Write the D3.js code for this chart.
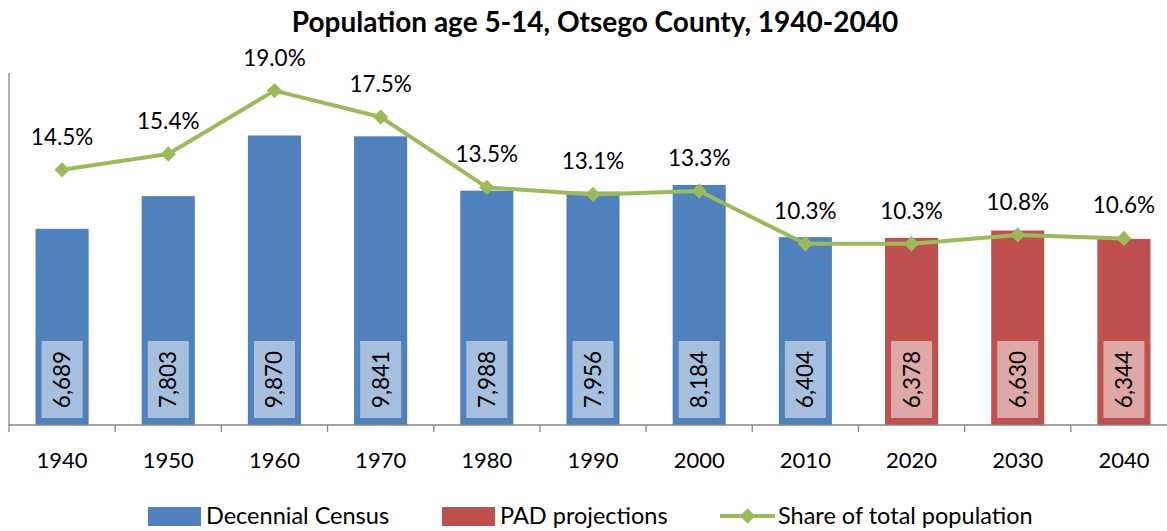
<!DOCTYPE html>
<html>
<head>
<meta charset="utf-8">
<script src="https://cdn.jsdelivr.net/npm/d3@7"></script>
<style>
  body { margin: 0; background: #fff; }
  text { font-family: Lato, "Open Sans", sans-serif; fill: #000; }
</style>
</head>
<body>
<div id="chart"></div>
<script>
//Datos
const years = ['1940','1950','1960','1970','1980','1990','2000','2010','2020','2030','2040'];
const population = [6689, 7803, 9870, 9841, 7988, 7956, 8184, 6404, 6378, 6630, 6344];
const share = [14.5, 15.4, 19.0, 17.5, 13.5, 13.1, 13.3, 10.3, 10.3, 10.8, 10.6];
const projected = [false, false, false, false, false, false, false, false, true, true, true];
const legendLabels = ['Decennial Census', 'PAD projections', 'Share of total population'];

//Colores
const COLOR_CENSUS = '#4F81BD',
COLOR_CENSUS_BOX = '#A7BFDE',
COLOR_PAD = '#C0504D',
COLOR_PAD_BOX = '#DFA7A6',
COLOR_SHARE = '#9BBB59',
COLOR_AXIS = '#868686';

const W = 1167, H = 531;
let margin = {left: 9, top: 73, bottom: 425};

let svg = d3.select('#chart').append('svg')
    .attr('width', W)
    .attr('height', H);

//Título
svg.append('text')
    .attr('x', 595)
    .attr('y', 32)
    .attr('text-anchor', 'middle')
    .style('font-size', '28px')
    .style('font-weight', 'bold')
    .text('Population age 5-14, Otsego County, 1940-2040');

let x = d3.scaleBand()
    .domain(years)
    .range([margin.left, 1177])
    .padding(0);

let y = d3.scaleLinear()
    .domain([0, 12000])
    .range([margin.bottom, margin.top]);

let y2 = d3.scaleLinear()
    .domain([0, 20])
    .range([margin.bottom, margin.top]);

let barW = x.bandwidth() * 0.5;

//Barras
let bars = svg.append('g')
    .selectAll('g')
    .data(years)
    .enter()
    .append('g');

bars.append('rect')
    .attr('x', function(d) { return x(d) + (x.bandwidth() - barW) / 2; })
    .attr('y', function(d, i) { return y(population[i]); })
    .attr('width', barW)
    .attr('height', function(d, i) { return y(0) - y(population[i]); })
    .attr('fill', function(d, i) { return projected[i] ? COLOR_PAD : COLOR_CENSUS; });

//Etiquetas de valor (cajas)
bars.append('rect')
    .attr('x', function(d) { return x(d) + x.bandwidth() / 2 - 20.5; })
    .attr('y', y(0) - 84)
    .attr('width', 41)
    .attr('height', 77)
    .attr('fill', function(d, i) { return projected[i] ? COLOR_PAD_BOX : COLOR_CENSUS_BOX; });

bars.append('text')
    .attr('transform', function(d) {
        return 'translate(' + (x(d) + x.bandwidth() / 2 + 8) + ',' + (y(0) - 45.5) + ') rotate(-90)';
    })
    .attr('text-anchor', 'middle')
    .style('font-size', '22.5px')
    .text(function(d, i) { return d3.format(',')(population[i]); });

//Ejes
svg.append('line')
    .attr('x1', margin.left).attr('x2', margin.left)
    .attr('y1', margin.top).attr('y2', margin.bottom)
    .attr('stroke', COLOR_AXIS).attr('stroke-width', 1.3);

svg.append('line')
    .attr('x1', margin.left).attr('x2', W)
    .attr('y1', margin.bottom).attr('y2', margin.bottom)
    .attr('stroke', COLOR_AXIS).attr('stroke-width', 1.3);

svg.append('g')
    .selectAll('line')
    .data(years.concat(['end']))
    .enter()
    .append('line')
    .attr('x1', function(d) { return d == 'end' ? x.range()[1] : x(d); })
    .attr('x2', function(d) { return d == 'end' ? x.range()[1] : x(d); })
    .attr('y1', margin.bottom)
    .attr('y2', margin.bottom + 7)
    .attr('stroke', COLOR_AXIS).attr('stroke-width', 1.3);

svg.append('g')
    .attr('transform', 'translate(0,' + margin.bottom + ')')
    .call(d3.axisBottom(x).tickSize(0).tickPadding(0))
    .call(function(g) {
        g.select('.domain').remove();
        g.selectAll('text')
            .attr('y', 43)
            .attr('dy', 0)
            .style('font-size', '22px')
            .style('font-family', 'Lato, "Open Sans", sans-serif')
            .attr('fill', '#000');
    });

//Línea
let line = d3.line()
    .x(function(d, i) { return x(years[i]) + x.bandwidth() / 2; })
    .y(function(d) { return y2(d); });

svg.append('path')
    .datum(share)
    .attr('d', line)
    .attr('fill', 'none')
    .attr('stroke', COLOR_SHARE)
    .attr('stroke-width', 4)
    .attr('stroke-linejoin', 'round');

svg.append('g')
    .selectAll('path')
    .data(share)
    .enter()
    .append('path')
    .attr('d', d3.symbol().type(d3.symbolDiamond2).size(150))
    .attr('transform', function(d, i) {
        return 'translate(' + (x(years[i]) + x.bandwidth() / 2) + ',' + y2(d) + ')';
    })
    .attr('fill', COLOR_SHARE);

svg.append('g')
    .selectAll('text')
    .data(share)
    .enter()
    .append('text')
    .attr('x', function(d, i) { return x(years[i]) + x.bandwidth() / 2; })
    .attr('y', function(d) { return y2(d) - 25; })
    .attr('text-anchor', 'middle')
    .style('font-size', '22.5px')
    .text(function(d) { return d.toFixed(1) + '%'; });

//Leyenda
let legend = svg.append('g');
let legendX = [148, 442, 720];

legend.append('rect')
    .attr('x', legendX[0]).attr('y', 507).attr('width', 53).attr('height', 19)
    .attr('fill', COLOR_CENSUS);
legend.append('rect')
    .attr('x', legendX[1]).attr('y', 507).attr('width', 53).attr('height', 19)
    .attr('fill', COLOR_PAD);
legend.append('line')
    .attr('x1', legendX[2]).attr('x2', legendX[2] + 55)
    .attr('y1', 516).attr('y2', 516)
    .attr('stroke', COLOR_SHARE).attr('stroke-width', 4);
legend.append('path')
    .attr('d', d3.symbol().type(d3.symbolDiamond2).size(150))
    .attr('transform', 'translate(' + (legendX[2] + 27.5) + ',516)')
    .attr('fill', COLOR_SHARE);

legend.selectAll('text')
    .data(legendLabels)
    .enter()
    .append('text')
    .attr('x', function(d, i) { return legendX[i] + 58; })
    .attr('y', 524)
    .style('font-size', '23.5px')
    .text(function(d) { return d; });
</script>
</body>
</html>
